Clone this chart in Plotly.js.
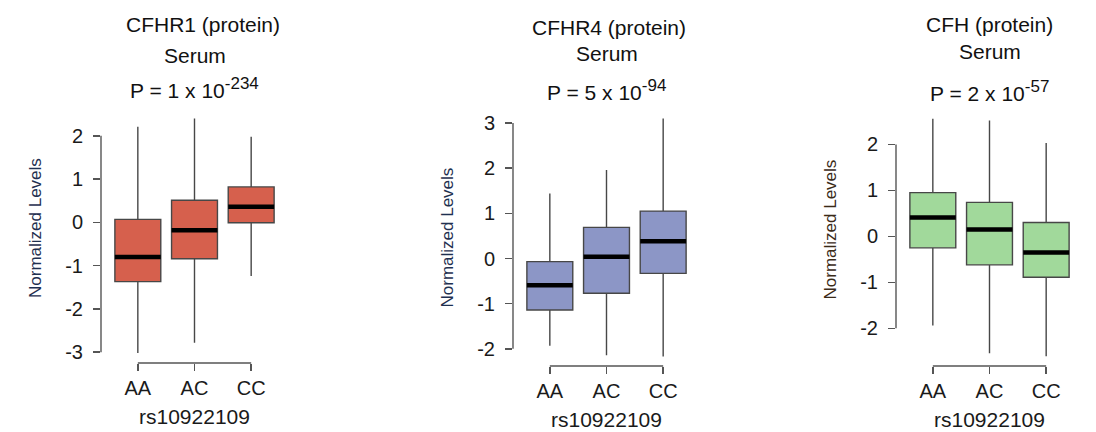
<!DOCTYPE html>
<html>
<head>
<meta charset="utf-8">
<script src="https://cdn.plot.ly/plotly-3.0.1.min.js"></script>
<style>html,body{margin:0;padding:0;background:#fff;}#chart{width:1096px;height:432px;}</style>
</head>
<body>
<div id="chart"></div>
<script>
// ---- data ----
const categories = ['AA', 'AC', 'CC'];
const xAxisLabel = 'rs10922109';
const yAxisLabel = 'Normalized Levels';

const panelNames = ['CFHR1 (protein)', 'CFHR4 (protein)', 'CFH (protein)'];
const panelTissue = 'Serum';
const pMantissa = ['1', '5', '2'];
const pExponent = ['-234', '-94', '-57'];

const cfhr1Lower  = [-3.02, -2.78, -1.24];
const cfhr1Q1     = [-1.37, -0.84, -0.01];
const cfhr1Median = [-0.80, -0.18, 0.36];
const cfhr1Q3     = [0.07, 0.51, 0.82];
const cfhr1Upper  = [2.21, 2.40, 1.98];

const cfhr4Lower  = [-1.93, -2.14, -2.17];
const cfhr4Q1     = [-1.14, -0.77, -0.33];
const cfhr4Median = [-0.59, 0.04, 0.38];
const cfhr4Q3     = [-0.07, 0.69, 1.05];
const cfhr4Upper  = [1.44, 1.96, 3.10];

const cfhLower  = [-1.94, -2.54, -2.61];
const cfhQ1     = [-0.25, -0.62, -0.89];
const cfhMedian = [0.41, 0.15, -0.35];
const cfhQ3     = [0.95, 0.74, 0.30];
const cfhUpper  = [2.56, 2.52, 2.03];

const cfhr1Ticks = [-3, -2, -1, 0, 1, 2];
const cfhr4Ticks = [-2, -1, 0, 1, 2, 3];
const cfhTicks   = [-2, -1, 0, 1, 2];

// ---- styling / layout ----
const FONT = '"Liberation Sans", Arial, Helvetica, sans-serif';
const W = 1096, H = 432;
const fills = ['#d6604d', '#8c96c6', '#a1d99b'];
const yLabelColors = ['#1f3050', '#1f3050', '#3a2a18'];

const panels = [
  {lower: cfhr1Lower, q1: cfhr1Q1, med: cfhr1Median, q3: cfhr1Q3, upper: cfhr1Upper, ticks: cfhr1Ticks,
   range: [-3.25, 2.62], xpx: [101, 288], ypx: [109, 363], titleShift: 8, ylabShift: 8},
  {lower: cfhr4Lower, q1: cfhr4Q1, med: cfhr4Median, q3: cfhr4Q3, upper: cfhr4Upper, ticks: cfhr4Ticks,
   range: [-2.38, 3.31], xpx: [513, 700], ypx: [109, 366], titleShift: 2, ylabShift: 0},
  {lower: cfhLower, q1: cfhQ1, med: cfhMedian, q3: cfhQ3, upper: cfhUpper, ticks: cfhTicks,
   range: [-2.82, 2.77], xpx: [896, 1083], ypx: [109, 366], titleShift: 0, ylabShift: 8}
];
const titleY = [[25, 55, 88], [28, 53, 90], [25, 52, 91]];

const traces = [];
const layout = {
  width: W, height: H,
  margin: {l: 0, r: 0, t: 0, b: 0},
  paper_bgcolor: '#ffffff', plot_bgcolor: '#ffffff',
  showlegend: false,
  boxmode: 'overlay',
  font: {family: FONT, size: 20, color: '#222'},
  shapes: [], annotations: []
};

panels.forEach((p, i) => {
  const n = i === 0 ? '' : String(i + 1);
  const xa = 'x' + n, ya = 'y' + n;
  traces.push({
    type: 'box', xaxis: xa, yaxis: ya,
    x: categories, q1: p.q1, median: p.med, q3: p.q3,
    lowerfence: p.lower, upperfence: p.upper,
    boxpoints: false, width: 0.81, whiskerwidth: 0,
    fillcolor: fills[i], line: {color: '#474747', width: 1.4},
    hoverinfo: 'skip'
  });
  traces.push({
    type: 'box', xaxis: xa, yaxis: ya,
    x: categories, q1: p.med, median: p.med, q3: p.med,
    lowerfence: p.med, upperfence: p.med,
    boxpoints: false, width: 0.81, whiskerwidth: 0,
    fillcolor: 'rgba(0,0,0,0)', line: {color: '#000', width: 4.5},
    hoverinfo: 'skip'
  });
  layout['xaxis' + n] = {
    domain: [p.xpx[0] / W, p.xpx[1] / W], anchor: ya,
    type: 'category', range: [-0.65, 2.65],
    showline: false, showgrid: false, zeroline: false,
    ticks: 'outside', ticklen: 7, tickwidth: 1.4, tickcolor: '#555',
    tickfont: {family: FONT, size: 20, color: '#1a1a1a'}, fixedrange: true
  };
  layout['yaxis' + n] = {
    domain: [1 - p.ypx[1] / H, 1 - p.ypx[0] / H], anchor: xa,
    range: p.range, tickvals: p.ticks, ticktext: p.ticks.map(String),
    showline: false, showgrid: false, zeroline: false,
    ticks: 'outside', ticklen: 7, tickwidth: 1.4, tickcolor: '#555',
    ticklabelstandoff: 6,
    tickfont: {family: FONT, size: 20, color: '#1a1a1a'}, fixedrange: true
  };
  // R-style axis lines spanning only the tick extent
  layout.shapes.push({type: 'line', xref: xa + ' domain', yref: ya,
    x0: 0, x1: 0, y0: Math.min(...p.ticks), y1: Math.max(...p.ticks),
    line: {color: '#555', width: 1.4}});
  layout.shapes.push({type: 'line', xref: xa, yref: ya + ' domain',
    x0: categories[0], x1: categories[categories.length - 1], y0: 0, y1: 0,
    line: {color: '#555', width: 1.4}});
  // titles
  const cx = (p.xpx[0] + p.xpx[1]) / 2 / W;
  layout.annotations.push({xref: 'paper', yref: 'paper', x: cx, y: 1 - titleY[i][0] / H,
    xshift: p.titleShift, text: panelNames[i], showarrow: false, xanchor: 'center', yanchor: 'middle',
    font: {family: FONT, size: 21, color: '#111'}});
  layout.annotations.push({xref: 'paper', yref: 'paper', x: cx, y: 1 - titleY[i][1] / H,
    text: panelTissue, showarrow: false, xanchor: 'center', yanchor: 'middle',
    font: {family: FONT, size: 21, color: '#111'}});
  layout.annotations.push({xref: 'paper', yref: 'paper', x: cx, y: 1 - titleY[i][2] / H,
    text: 'P = ' + pMantissa[i] + ' x 10<sup><span style="font-size:17px">' + pExponent[i] + '</span></sup>',
    showarrow: false, xanchor: 'center', yanchor: 'middle',
    font: {family: FONT, size: 21, color: '#111'}});
  // axis titles
  layout.annotations.push({xref: xa + ' domain', yref: ya + ' domain', x: 0.5, y: 0,
    yshift: -53, text: xAxisLabel, showarrow: false, xanchor: 'center', yanchor: 'middle',
    font: {family: FONT, size: 21, color: '#1a1a1a'}});
  layout.annotations.push({xref: xa + ' domain', yref: ya + ' domain', x: 0, y: 0.5,
    xshift: -66, yshift: p.ylabShift, text: yAxisLabel, textangle: -90, showarrow: false,
    xanchor: 'center', yanchor: 'middle',
    font: {family: FONT, size: 17, color: yLabelColors[i]}});
});

Plotly.newPlot('chart', traces, layout, {staticPlot: true, displayModeBar: false});
</script>
</body>
</html>
